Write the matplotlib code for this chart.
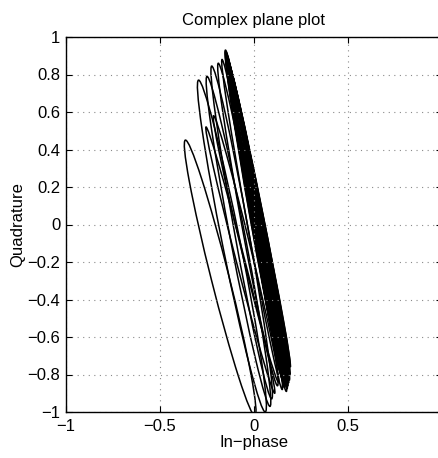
import numpy as np
import matplotlib
matplotlib.use("Agg")
import matplotlib.pyplot as plt
from matplotlib.patches import Ellipse

plt.rcParams['font.family'] = ['Liberation Sans', 'DejaVu Sans']

# outer loops: top point, bottom point, minor width (data units)
loop_top_x = [-0.365, -0.295, -0.250, -0.225, -0.190, -0.255, -0.215, -0.170]
loop_top_y = [0.45, 0.77, 0.79, 0.845, 0.86, 0.52, 0.58, 0.88]
loop_bot_x = [0.005, 0.060, 0.085, 0.094, 0.125, 0.110, 0.130, 0.150]
loop_bot_y = [-1.02, -1.00, -0.97, -0.93, -0.86, -0.90, -0.84, -0.88]
loop_w = [0.095, 0.095, 0.08, 0.075, 0.065, 0.045, 0.05, 0.05]

# dense band of thin loops
band_top_x = [-0.152, -0.151, -0.150, -0.149, -0.148, -0.147, -0.146, -0.145,
              -0.144, -0.143, -0.142, -0.141, -0.140, -0.139, -0.138, -0.137,
              -0.136, -0.135, -0.134, -0.133, -0.132, -0.131, -0.130, -0.128,
              -0.150, -0.147, -0.144, -0.141, -0.138, -0.135, -0.132, -0.129,
              -0.146, -0.140, -0.134, -0.128]
band_top_y = [0.93, 0.925, 0.92, 0.915, 0.91, 0.905, 0.90, 0.895,
              0.89, 0.885, 0.88, 0.875, 0.87, 0.865, 0.86, 0.855,
              0.85, 0.845, 0.84, 0.835, 0.83, 0.825, 0.82, 0.81,
              0.91, 0.90, 0.89, 0.88, 0.87, 0.86, 0.85, 0.84,
              0.89, 0.87, 0.85, 0.83]
band_bot_x = [0.172, 0.176, 0.180, 0.184, 0.188, 0.191, 0.193, 0.190,
              0.186, 0.182, 0.178, 0.174, 0.170, 0.166, 0.162, 0.158,
              0.155, 0.152, 0.149, 0.146, 0.143, 0.140, 0.137, 0.134,
              0.178, 0.183, 0.187, 0.185, 0.176, 0.168, 0.160, 0.152,
              0.180, 0.172, 0.164, 0.156]
band_bot_y = [-0.89, -0.875, -0.86, -0.845, -0.83, -0.80, -0.76, -0.74,
              -0.77, -0.79, -0.81, -0.83, -0.85, -0.86, -0.87, -0.85,
              -0.84, -0.83, -0.82, -0.81, -0.80, -0.79, -0.78, -0.77,
              -0.85, -0.82, -0.79, -0.78, -0.82, -0.84, -0.83, -0.80,
              -0.81, -0.84, -0.82, -0.79]
band_w = [0.055, 0.05, 0.045, 0.04, 0.05, 0.045, 0.04, 0.035,
          0.05, 0.045, 0.04, 0.035, 0.03, 0.045, 0.04, 0.035,
          0.03, 0.025, 0.035, 0.03, 0.025, 0.02, 0.03, 0.025,
          0.02, 0.025, 0.03, 0.02, 0.025, 0.02, 0.015, 0.02,
          0.06, 0.055, 0.06, 0.05]

ytick_vals = [-1, -0.8, -0.6, -0.4, -0.2, 0, 0.2, 0.4, 0.6, 0.8, 1]
ytick_labels = ['\u22121', '\u22120.8', '\u22120.6', '\u22120.4', '\u22120.2', '0',
                '0.2', '0.4', '0.6', '0.8', '1']
xtick_vals = [-1, -0.5, 0, 0.5]
xtick_labels = ['\u22121', '\u22120.5', '0', '0.5']


def add_loop(ax, tx, ty, bx, by, w):
    cx, cy = (tx + bx) / 2, (ty + by) / 2
    length = np.hypot(tx - bx, ty - by)
    ang = np.degrees(np.arctan2(ty - by, tx - bx))
    ax.add_patch(Ellipse((cx, cy), length, w, angle=ang, fill=False,
                         edgecolor='black', lw=1.1))


fig = plt.figure(figsize=(4.38, 4.58), dpi=100)
ax = fig.add_axes([66 / 438, 46 / 458, 376 / 438, 375 / 458])

for i in range(len(loop_w)):
    add_loop(ax, loop_top_x[i], loop_top_y[i], loop_bot_x[i], loop_bot_y[i], loop_w[i])
for i in range(len(band_w)):
    add_loop(ax, band_top_x[i], band_top_y[i], band_bot_x[i], band_bot_y[i], band_w[i])

ax.set_xlim(-1, 1)
ax.set_ylim(-1, 1)
ax.set_xticks(xtick_vals)
ax.set_xticklabels(xtick_labels)
ax.set_yticks(ytick_vals)
ax.set_yticklabels(ytick_labels)
ax.tick_params(direction='in', top=True, right=True, labelsize=12, length=4,
               width=0.8)
ax.tick_params(axis='x', pad=5)
ax.tick_params(axis='y', pad=4)
ax.grid(True, linestyle=(0, (1, 4)), color='#8a8a8a', lw=0.8)
for s in ax.spines.values():
    s.set_linewidth(1.0)

ax.set_title('Complex plane plot', fontsize=12, pad=9)
ax.set_xlabel('In\u2212phase', fontsize=12, labelpad=1)
ax.set_ylabel('Quadrature', fontsize=12, labelpad=2)

fig.savefig('out.png', dpi=100)
